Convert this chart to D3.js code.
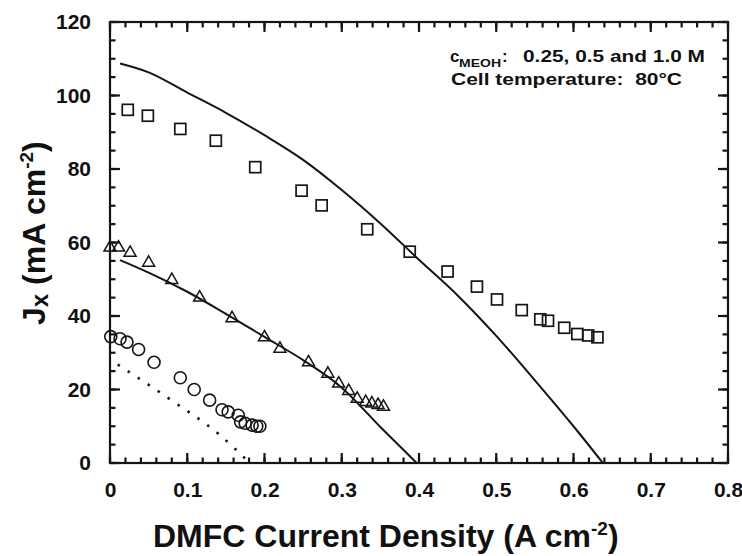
<!DOCTYPE html>
<html>
<head>
<meta charset="utf-8">
<script src="https://cdn.jsdelivr.net/npm/d3@7"></script>
<style>
    body { margin: 0; background: #fff; }
    svg text { font-family: "Liberation Sans", Arial, sans-serif; font-weight: bold; fill: #111; }
</style>
</head>
<body>
<svg id="chart" width="742" height="556"></svg>
<script>
// measured points, 1.0 M methanol (squares)
const squares10 = [
    [0.023, 96.1], [0.049, 94.5], [0.091, 90.9], [0.137, 87.7], [0.188, 80.5],
    [0.248, 74.1], [0.274, 70.1], [0.333, 63.6], [0.388, 57.5], [0.437, 52.1],
    [0.475, 48.0], [0.501, 44.5], [0.533, 41.6], [0.557, 39.1], [0.567, 38.7],
    [0.588, 36.8], [0.605, 35.1], [0.619, 34.7], [0.631, 34.2]
]
// measured points, 0.5 M (triangles)
const triangles05 = [
    [0.0, 58.6], [0.011, 58.6], [0.026, 57.2], [0.050, 54.5], [0.080, 49.8],
    [0.116, 45.0], [0.158, 39.4], [0.200, 34.2], [0.220, 31.1], [0.257, 27.4],
    [0.282, 24.3], [0.296, 21.6], [0.309, 19.6], [0.320, 17.5], [0.331, 16.6],
    [0.339, 16.2], [0.347, 15.8], [0.354, 15.3]
]
// measured points, 0.25 M (circles)
const circles025 = [
    [0.001, 34.4], [0.013, 33.8], [0.022, 32.9], [0.037, 30.9], [0.057, 27.4],
    [0.091, 23.2], [0.109, 20.0], [0.129, 17.1], [0.145, 14.5], [0.153, 13.9],
    [0.166, 13.0], [0.169, 11.2], [0.175, 10.8], [0.184, 10.3], [0.190, 10.0],
    [0.194, 10.0]
]
// model curves
const model10 = [
    [0.013, 108.7], [0.05, 106.3], [0.1, 100.8], [0.15, 95.3], [0.2, 89.2],
    [0.25, 82.5], [0.3, 74.3], [0.35, 65.2], [0.4, 55.3], [0.45, 45.6],
    [0.5, 34.6], [0.55, 22.5], [0.6, 10.0], [0.638, 0]
]
const model05 = [
    [0.013, 55.2], [0.05, 51.8], [0.1, 46.6], [0.15, 40.6], [0.2, 34.3],
    [0.25, 28.0], [0.3, 20.5], [0.35, 9.8], [0.397, 0]
]
const model025 = [[0.01, 26.8], [0.08, 17.0], [0.14, 8.0], [0.181, 0]]

const xTickValues = [0, 0.1, 0.2, 0.3, 0.4, 0.5, 0.6, 0.7, 0.8]
const xTickLabels = ["0", "0.1", "0.2", "0.3", "0.4", "0.5", "0.6", "0.7", "0.8"]
const yTickValues = [0, 20, 40, 60, 80, 100, 120]
const yTickLabels = ["0", "20", "40", "60", "80", "100", "120"]
const xMinorTicks = d3.range(0, 0.8001, 0.02)
const yMinorTicks = d3.range(0, 120.001, 5)

const plotLeft = 110, plotRight = 728, plotTop = 22, plotBottom = 463
const ink = "#151515"

let svg = d3.select("#chart")
let x = d3.scaleLinear().domain([0, 0.8]).range([plotLeft, plotRight])
let y = d3.scaleLinear().domain([0, 120]).range([plotBottom, plotTop])

// tick labels from d3 axes (tick lines drawn below)
svg.append("g").attr("transform", `translate(0,${plotBottom})`)
    .call(d3.axisBottom(x).tickValues(xTickValues).tickFormat((d, i) => xTickLabels[i])
        .tickSize(0).tickPadding(19))
    .call(g => g.select(".domain").remove())
    .selectAll("text").attr("fill", ink).style("font-size", "21px")
svg.append("g").attr("transform", `translate(${plotLeft},0)`)
    .call(d3.axisLeft(y).tickValues(yTickValues).tickFormat((d, i) => yTickLabels[i])
        .tickSize(0).tickPadding(19))
    .call(g => g.select(".domain").remove())
    .selectAll("text").attr("fill", ink).style("font-size", "21px")

// inward ticks on all four sides
let ticks = svg.append("g").attr("stroke", ink).attr("stroke-width", 2.2)
function xTicks(values, len) {
    ticks.selectAll(null).data(values).enter().append("line")
        .attr("x1", d => x(d)).attr("x2", d => x(d))
        .attr("y1", plotBottom).attr("y2", plotBottom - len)
    ticks.selectAll(null).data(values).enter().append("line")
        .attr("x1", d => x(d)).attr("x2", d => x(d))
        .attr("y1", plotTop).attr("y2", plotTop + len)
}
function yTicks(values, len) {
    ticks.selectAll(null).data(values).enter().append("line")
        .attr("y1", d => y(d)).attr("y2", d => y(d))
        .attr("x1", plotLeft).attr("x2", plotLeft + len)
    ticks.selectAll(null).data(values).enter().append("line")
        .attr("y1", d => y(d)).attr("y2", d => y(d))
        .attr("x1", plotRight).attr("x2", plotRight - len)
}
xTicks(xMinorTicks, 5.5)
xTicks(xTickValues, 10)
yTicks(yMinorTicks, 5.5)
yTicks(yTickValues, 10)

// frame
svg.append("rect")
    .attr("x", plotLeft).attr("y", plotTop)
    .attr("width", plotRight - plotLeft).attr("height", plotBottom - plotTop)
    .attr("fill", "none").attr("stroke", ink).attr("stroke-width", 2.2)

// model lines
let line = d3.line().x(d => x(d[0])).y(d => y(d[1])).curve(d3.curveMonotoneX)
svg.append("path").datum(model10).attr("d", line)
    .attr("fill", "none").attr("stroke", ink).attr("stroke-width", 2)
svg.append("path").datum(model05).attr("d", line)
    .attr("fill", "none").attr("stroke", ink).attr("stroke-width", 2)
svg.append("path").datum(model025).attr("d", line)
    .attr("fill", "none").attr("stroke", ink).attr("stroke-width", 2.6)
    .attr("stroke-dasharray", "2.5,9.5")

// markers
svg.append("g").selectAll("rect").data(squares10).enter().append("rect")
    .attr("x", d => x(d[0]) - 5.5).attr("y", d => y(d[1]) - 5.5)
    .attr("width", 11).attr("height", 11)
    .attr("fill", "none").attr("stroke", ink).attr("stroke-width", 1.7)

let tri = d3.symbol().type(d3.symbolTriangle).size(62)
svg.append("g").selectAll("path").data(triangles05).enter().append("path")
    .attr("d", tri)
    .attr("transform", d => `translate(${x(d[0])},${y(d[1])})`)
    .attr("fill", "none").attr("stroke", ink).attr("stroke-width", 1.5)

svg.append("g").selectAll("circle").data(circles025).enter().append("circle")
    .attr("cx", d => x(d[0])).attr("cy", d => y(d[1])).attr("r", 6)
    .attr("fill", "none").attr("stroke", ink).attr("stroke-width", 1.6)

// annotation
let note = svg.append("g").style("font-size", "17px")
note.append("text").attr("x", 450).attr("y", 62).text("c")
note.append("text").attr("x", 459).attr("y", 67).style("font-size", "11px")
    .attr("textLength", 42).attr("lengthAdjust", "spacingAndGlyphs").text("MEOH")
note.append("text").attr("x", 502).attr("y", 62).text(":")
note.append("text").attr("x", 523).attr("y", 62)
    .attr("textLength", 182).attr("lengthAdjust", "spacingAndGlyphs").text("0.25, 0.5 and 1.0 M")
note.append("text").attr("x", 451).attr("y", 85)
    .attr("textLength", 231).attr("lengthAdjust", "spacingAndGlyphs").text("Cell temperature:\u00a0 80°C")

// axis titles
let xt = svg.append("text").attr("x", 153).attr("y", 547).style("font-size", "32px")
xt.append("tspan").text("DMFC Current Density (A cm")
xt.append("tspan").attr("dy", -12).style("font-size", "19px").text("-2")
xt.append("tspan").attr("dy", 12).text(")")

let yt = svg.append("text").attr("transform", "translate(45,325) rotate(-90)").style("font-size", "32px")
yt.append("tspan").text("J")
yt.append("tspan").attr("dy", 3).style("font-size", "24px").text("x")
yt.append("tspan").attr("dy", -3).text(" (mA cm")
yt.append("tspan").attr("dy", -12).style("font-size", "19px").text("-2")
yt.append("tspan").attr("dy", 12).text(")")
</script>
</body>
</html>
